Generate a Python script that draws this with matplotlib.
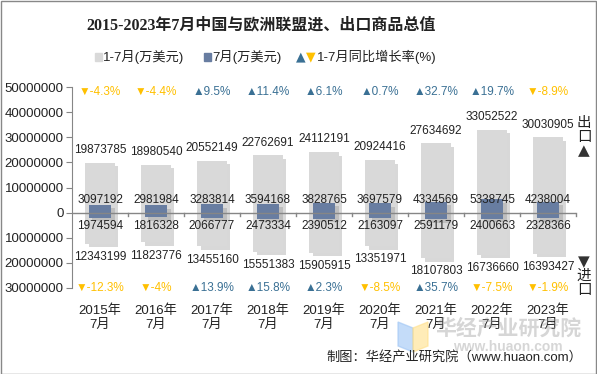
import matplotlib
matplotlib.use("Agg")
import matplotlib.pyplot as plt
import matplotlib.patheffects as pe
from matplotlib.patches import Rectangle, Polygon
import numpy as np

plt.rcParams['font.family'] = ['Liberation Sans', 'Noto Sans CJK SC', 'DejaVu Sans']

years = ["2015年\n7月", "2016年\n7月", "2017年\n7月", "2018年\n7月", "2019年\n7月",
         "2020年\n7月", "2021年\n7月", "2022年\n7月", "2023年\n7月"]
export_ytd = [19873785, 18980540, 20552149, 22762691, 24112191, 20924416, 27634692, 33052522, 30030905]
export_jul = [3097192, 2981984, 3283814, 3594168, 3828765, 3697579, 4334569, 5338745, 4238004]
import_jul = [1974594, 1816328, 2066777, 2473334, 2390512, 2163097, 2591179, 2400663, 2328366]
import_ytd = [12343199, 11823776, 13455160, 15551383, 15905915, 13351971, 18107803, 16736660, 16393427]
export_growth = [-4.3, -4.4, 9.5, 11.4, 6.1, 0.7, 32.7, 19.7, -8.9]
import_growth = [-12.3, -4, 13.9, 15.8, 2.3, -8.5, 35.7, -7.5, -1.9]
yticks = [-30000000, -20000000, -10000000, 0, 10000000, 20000000, 30000000, 40000000, 50000000]

LIGHT = '#D9D9D9'
DARK = '#687DA1'
UP = '#3A7094'
DOWN = '#FFC000'
AXC = '#868686'

fig = plt.figure(figsize=(5.97, 3.74), dpi=100)
ax = fig.add_axes([72/597, 1-288/374, 504/597, (288-87)/374])

x = np.arange(len(years))
shadow = [pe.SimplePatchShadow(offset=(2.5, -2.5), shadow_rgbFace='#808080', alpha=0.3), pe.Normal()]
b1 = ax.bar(x, export_ytd, width=0.52, color=LIGHT, zorder=2)
b2 = ax.bar(x, [-v for v in import_ytd], width=0.52, color=LIGHT, zorder=2)
b3 = ax.bar(x, export_jul, width=0.41, color=DARK, zorder=3)
b4 = ax.bar(x, [-v for v in import_jul], width=0.41, color=DARK, zorder=3)
for bars in (b1, b2, b3, b4):
    for p in bars:
        p.set_path_effects(shadow)

ax.set_xlim(-0.5, len(years) - 0.5)
ax.set_ylim(-30000000, 50000000)
ax.set_yticks(yticks)
ax.set_yticklabels([str(abs(v)) for v in yticks], fontsize=9.5, color='#222222')
ax.tick_params(axis='y', direction='out', length=4, color=AXC, pad=2)
for s in ('top', 'right', 'bottom'):
    ax.spines[s].set_visible(False)
ax.spines['left'].set_color(AXC)
ax.axhline(0, color=AXC, lw=1, zorder=4)
ax.set_xticks([])
for b in np.arange(0.5, len(years), 1.0):
    ax.plot([b, b], [0, -1500000], color=AXC, lw=1, zorder=4, clip_on=False)

fs = 8.5
for i in range(len(years)):
    ax.text(x[i], export_ytd[i] + 5000000, str(export_ytd[i]), ha='center', va='center', fontsize=fs, color='#222222', zorder=5)
    ax.text(x[i], 5200000, str(export_jul[i]), ha='center', va='center', fontsize=fs, color='#222222', zorder=5)
    ax.text(x[i], -5200000, str(import_jul[i]), ha='center', va='center', fontsize=fs, color='#222222', zorder=5)
    ax.text(x[i], -import_ytd[i] - 5300000, str(import_ytd[i]), ha='center', va='center', fontsize=fs, color='#222222', zorder=5)
    for val, yy in ((export_growth[i], 48000000), (import_growth[i], -30000000)):
        if val >= 0:
            s, c = "▲%g%%" % val, UP
        else:
            s, c = "▼%g%%" % val, DOWN
        ax.text(x[i], yy, s, ha='center', va='center', fontsize=fs, color=c, zorder=5,
                family=['Liberation Sans', 'DejaVu Sans'], clip_on=False)
    ax.text(x[i], -41800000, years[i], ha='center', va='center', fontsize=9.5, color='#222222',
            linespacing=1.25, clip_on=False)

# title
fig.text(261/597, 1-25/374, "2015-2023年7月中国与欧洲联盟进、出口商品总值", ha='center', va='center',
         fontsize=11.5, fontweight='bold', color='#222222',
         family=['Liberation Serif', 'Noto Sans CJK SC'])

# legend
ly = 1-57/374
lfs = 9.5
fig.add_artist(Rectangle((95/597, ly-4/374), 7/597, 8/374, transform=fig.transFigure, color=LIGHT))
fig.text(103/597, ly, "1-7月(万美元)", ha='left', va='center', fontsize=lfs, color='#222222')
fig.add_artist(Rectangle((204/597, ly-4/374), 7/597, 8/374, transform=fig.transFigure, color=DARK))
fig.text(212/597, ly, "7月(万美元)", ha='left', va='center', fontsize=lfs, color='#222222')
fig.text(296/597, ly, "▲", ha='left', va='center', fontsize=9, color=UP, family=['DejaVu Sans'])
fig.text(306/597, ly, "▼", ha='left', va='center', fontsize=9, color=DOWN, family=['DejaVu Sans'])
fig.text(317/597, ly, "1-7月同比增长率(%)", ha='left', va='center', fontsize=lfs, color='#222222')

# right side labels
for ch, yy in (("出", 123), ("口", 137)):
    fig.text(584/597, 1-yy/374, ch, ha='center', va='center', fontsize=10.5, color='#222222')
fig.text(584/597, 1-151/374, "▲", ha='center', va='center', fontsize=11, color='#333333', family=['DejaVu Sans'])
fig.text(584/597, 1-262/374, "▼", ha='center', va='center', fontsize=11, color='#333333', family=['DejaVu Sans'])
for ch, yy in (("进", 276), ("口", 290)):
    fig.text(584/597, 1-yy/374, ch, ha='center', va='center', fontsize=10.5, color='#222222')

# watermark
fig.add_artist(Polygon([(398/597, 1-322/374), (413/597, 1-328/374), (413/597, 1-352/374), (398/597, 1-346/374)],
                       closed=True, transform=fig.transFigure, color='#9EC5F5', alpha=0.6, zorder=6))
fig.add_artist(Polygon([(413/597, 1-328/374), (428/597, 1-322/374), (428/597, 1-346/374), (413/597, 1-352/374)],
                       closed=True, transform=fig.transFigure, color='#FFE08A', alpha=0.6, zorder=6))
fig.text(508/597, 1-328/374, "华经产业研究院", ha='center', va='center', fontsize=15, fontweight='bold',
         color='#999999', alpha=0.4, zorder=6)
fig.text(508/597, 1-347/374, "www.huaon.com", ha='center', va='center', fontsize=10, fontweight='bold',
         color='#999999', alpha=0.4, zorder=6)

fig.text(582/597, 1-357/374, "制图：华经产业研究院（www.huaon.com）", ha='right', va='center',
         fontsize=9.5, color='#222222', zorder=7)

# border
fig.add_artist(Rectangle((0.5/597, 0.5/374), 595.5/597, 372.5/374, transform=fig.transFigure,
                         fill=False, edgecolor='#888888', lw=1))

fig.savefig("out.png", dpi=100)
